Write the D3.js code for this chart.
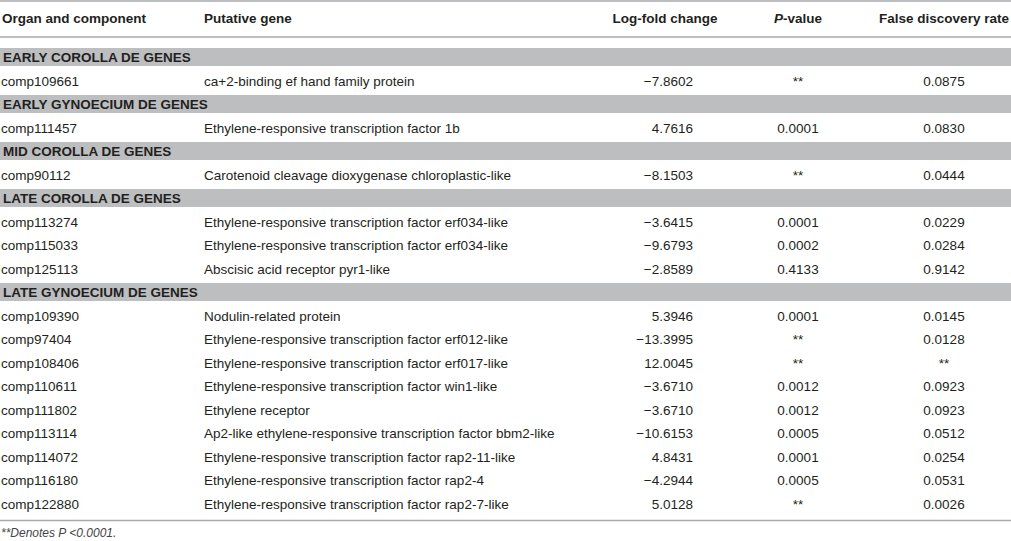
<!DOCTYPE html>
<html>
<head>
<meta charset="utf-8">
<script src="https://cdn.jsdelivr.net/npm/d3@7"></script>
<style>
  html, body { margin: 0; padding: 0; background: #fff; }
  svg { display: block; }
  text { font-family: "Liberation Sans", Arial, Helvetica, sans-serif; fill: #231f20; }
</style>
</head>
<body>
<svg id="chart" width="1011" height="541"></svg>
<script>
// ---- data ----
const headers = ["Organ and component", "Putative gene", "Log-fold change", "P-value", "False discovery rate"];
const sections = ["EARLY COROLLA DE GENES", "EARLY GYNOECIUM DE GENES", "MID COROLLA DE GENES", "LATE COROLLA DE GENES", "LATE GYNOECIUM DE GENES"];
const sectionOf = [0, 1, 2, 3, 3, 3, 4, 4, 4, 4, 4, 4, 4, 4, 4];
const components = ["comp109661", "comp111457", "comp90112", "comp113274", "comp115033", "comp125113",
  "comp109390", "comp97404", "comp108406", "comp110611", "comp111802", "comp113114", "comp114072", "comp116180", "comp122880"];
const genes = [
  "ca+2-binding ef hand family protein",
  "Ethylene-responsive transcription factor 1b",
  "Carotenoid cleavage dioxygenase chloroplastic-like",
  "Ethylene-responsive transcription factor erf034-like",
  "Ethylene-responsive transcription factor erf034-like",
  "Abscisic acid receptor pyr1-like",
  "Nodulin-related protein",
  "Ethylene-responsive transcription factor erf012-like",
  "Ethylene-responsive transcription factor erf017-like",
  "Ethylene-responsive transcription factor win1-like",
  "Ethylene receptor",
  "Ap2-like ethylene-responsive transcription factor bbm2-like",
  "Ethylene-responsive transcription factor rap2-11-like",
  "Ethylene-responsive transcription factor rap2-4",
  "Ethylene-responsive transcription factor rap2-7-like"
];
const logFold = ["−7.8602", "4.7616", "−8.1503", "−3.6415", "−9.6793", "−2.8589",
  "5.3946", "−13.3995", "12.0045", "−3.6710", "−3.6710", "−10.6153", "4.8431", "−4.2944", "5.0128"];
const pValues = ["**", "0.0001", "**", "0.0001", "0.0002", "0.4133",
  "0.0001", "**", "**", "0.0012", "0.0012", "0.0005", "0.0001", "0.0005", "**"];
const fdr = ["0.0875", "0.0830", "0.0444", "0.0229", "0.0284", "0.9142",
  "0.0145", "0.0128", "**", "0.0923", "0.0923", "0.0512", "0.0254", "0.0531", "0.0026"];
const footnote = "**Denotes P <0.0001.";

// ---- build row list: section bands interleaved with data rows ----
const rows = [];
sections.forEach((s, si) => {
  rows.push({ type: "section", label: s });
  components.forEach((c, i) => {
    if (sectionOf[i] === si) rows.push({ type: "data", i });
  });
});

const W = 1011;
const FS = 13.5;
const svg = d3.select("#chart");

// row scale: centre of each row
const y = d3.scaleLinear().domain([0, rows.length - 1]).range([57, 503.5]);
// column anchors
const x = d3.scaleOrdinal().domain(headers).range([2, 204, 693, 798, 944]);
const anchor = ["start", "start", "end", "middle", "middle"];

const lineColor = "#a7a9ac";
const bandColor = "#bcbec0";

// rules
[1, 37, 520.5].forEach(v => {
  svg.append("line").attr("x1", 0).attr("x2", W).attr("y1", v).attr("y2", v)
    .attr("stroke", lineColor).attr("stroke-width", 1.5);
});

// header
const hdr = svg.append("g");
headers.forEach((h, k) => {
  const t = hdr.append("text")
    .attr("x", k === 2 ? 665 : (k === 4 ? 944 : x(h)))
    .attr("y", 22.5)
    .attr("text-anchor", k === 2 ? "middle" : anchor[k])
    .attr("font-size", FS).attr("font-weight", "bold");
  if (h === "P-value") {
    t.append("tspan").attr("font-style", "italic").text("P");
    t.append("tspan").text("-value");
  } else {
    t.text(h);
  }
});

// section bands
const secRows = rows.map((r, k) => ({ ...r, k })).filter(r => r.type === "section");
svg.selectAll("rect.band").data(secRows).enter().append("rect")
  .attr("class", "band")
  .attr("x", 0).attr("width", W)
  .attr("y", d => y(d.k) - 9).attr("height", 18)
  .attr("fill", bandColor);
svg.selectAll("text.sec").data(secRows).enter().append("text")
  .attr("class", "sec")
  .attr("x", 3).attr("y", d => y(d.k) + 5)
  .attr("font-size", FS).attr("font-weight", "bold")
  .text(d => d.label);

// data rows
const dataRows = rows.map((r, k) => ({ ...r, k })).filter(r => r.type === "data");
const cols = [components, genes, logFold, pValues, fdr];
const g = svg.selectAll("g.row").data(dataRows).enter().append("g").attr("class", "row");
cols.forEach((arr, c) => {
  g.append("text")
    .attr("x", c === 0 ? 1 : x(headers[c]))
    .attr("y", d => y(d.k) + 5)
    .attr("text-anchor", anchor[c])
    .attr("font-size", FS)
    .text(d => arr[d.i]);
});

// footnote
svg.append("text")
  .attr("x", 1).attr("y", 537)
  .attr("font-size", 12).attr("font-style", "italic")
  .style("fill", "#444")
  .text(footnote);
</script>
</body>
</html>
